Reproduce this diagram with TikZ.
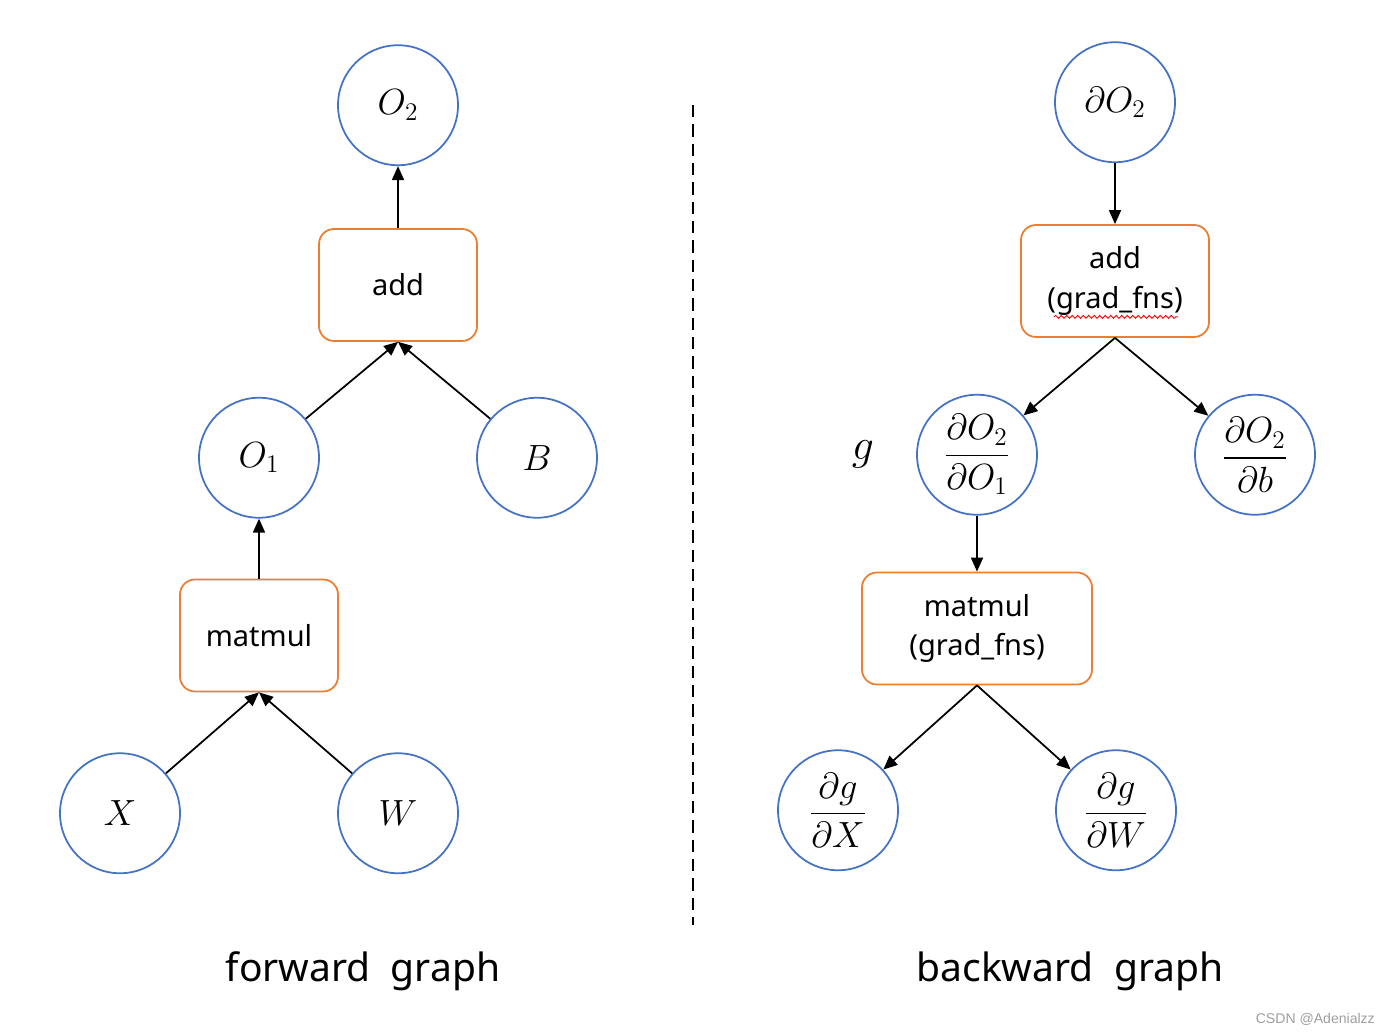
\documentclass[tikz,border=0pt]{standalone}
\usepackage{fontspec}
\setmainfont{Noto Sans}
\newfontfamily\markfont{Liberation Sans}
\usepackage{amsmath}
\usetikzlibrary{arrows.meta, positioning, decorations.pathmorphing}
\definecolor{varblue}{RGB}{68,114,196}
\definecolor{oporange}{RGB}{237,125,49}
\tikzstyle{var} = [circle, minimum size=2.4cm, inner sep=0, draw=varblue, line width=1pt, font=\fontsize{20.5}{23}\selectfont]
\tikzstyle{frac} = [var, font=\fontsize{21}{23}\selectfont]
\tikzstyle{op} = [rectangle, rounded corners=0.3cm, minimum width=3.16cm, minimum height=2.24cm, text centered, align=center, draw=oporange, line width=1pt, font=\fontsize{16.5}{22.7}\selectfont]
\tikzstyle{arrow} = [line width=1pt,->,>={Triangle[length=2.8mm,width=2.4mm]}]
\tikzstyle{title} = [font=\fontsize{22.2}{25}\selectfont]

\begin{document}
\begin{tikzpicture}[node distance=1.2cm and 1cm]
	\useasboundingbox (0,0) rectangle (27.92,20.68);
	% forward graph
	\node (fwd_add) [op] at (7.96,14.98) {add};
	\node (fwd_o2) [var, above=1.24cm of fwd_add] {$O_2$};
	\draw [arrow] (fwd_add) -- (fwd_o2);
	\node (fwd_o1) [var, below=1.1cm of fwd_add, xshift=-2.78cm] {$O_1$};
	\node (fwd_b) [var, below=1.1cm of fwd_add, xshift=2.78cm] {$B$};
	\draw [arrow] (fwd_o1) -- (fwd_add.south);
	\draw [arrow] (fwd_b) -- (fwd_add.south);
	\node (fwd_matmul) [op, below=of fwd_o1] {matmul};
	\draw [arrow] (fwd_matmul) -- (fwd_o1);
	\node (fwd_x) [var, below=of fwd_matmul, xshift=-2.78cm] {$X$};
	\node (fwd_w) [var, below=of fwd_matmul, xshift=2.78cm] {$W$};
	\draw [arrow] (fwd_x) -- (fwd_matmul.south);
	\draw [arrow] (fwd_w) -- (fwd_matmul.south);
	\node (fwd_label) [title] at (7.26,1.26) {forward~~graph};

	% divider
	\coordinate (div_top) at (13.86,18.58);
	\coordinate (div_bot) at (13.86,2.18);
	\draw [line width=0.8pt, dash pattern=on 7pt off 4pt] (div_top) -- (div_bot);

	% backward graph
	\node (bwd_add) [op, minimum width=3.76cm] at (22.30,15.06) {add\\(grad\_fns)};
	\draw [red, line width=0.5pt, decorate, decoration={snake, amplitude=0.3mm, segment length=1.1mm}] ([xshift=-1.22cm, yshift=0.42cm]bwd_add.south) -- ([xshift=1.26cm, yshift=0.42cm]bwd_add.south);
	\node (bwd_o2) [var, above=1.22cm of bwd_add] {$\partial O_2$};
	\draw [arrow] (bwd_o2) -- (bwd_add);
	\node (bwd_do1) [frac, below=1.12cm of bwd_add, xshift=-2.76cm] {$\dfrac{\partial O_2}{\partial O_1}$};
	\node (bwd_db) [frac, below=1.12cm of bwd_add, xshift=2.8cm] {$\dfrac{\partial O_2}{\partial b}$};
	\draw [arrow] (bwd_add.south) -- (bwd_do1);
	\draw [arrow] (bwd_add.south) -- (bwd_db);
	\node (bwd_g) [font=\fontsize{28}{30}\selectfont, left=0.72cm of bwd_do1] {$g$};
	\node (bwd_matmul) [op, minimum width=4.6cm, below=1.12cm of bwd_do1] {matmul\\(grad\_fns)};
	\draw [arrow] (bwd_do1) -- (bwd_matmul);
	\node (bwd_dx) [frac, below=1.28cm of bwd_matmul, xshift=-2.78cm] {$\dfrac{\partial g}{\partial X}$};
	\node (bwd_dw) [frac, below=1.28cm of bwd_matmul, xshift=2.78cm] {$\dfrac{\partial g}{\partial W}$};
	\draw [arrow] (bwd_matmul.south) -- (bwd_dx);
	\draw [arrow] (bwd_matmul.south) -- (bwd_dw);
	\node (bwd_label) [title] at (21.4,1.26) {backward~~graph};

	\node (mark) [anchor=east, text=black!38, font=\markfont\fontsize{8}{9}\selectfont] at (27.62,0.3) {CSDN @Adenialzz};
\end{tikzpicture}
\end{document}
